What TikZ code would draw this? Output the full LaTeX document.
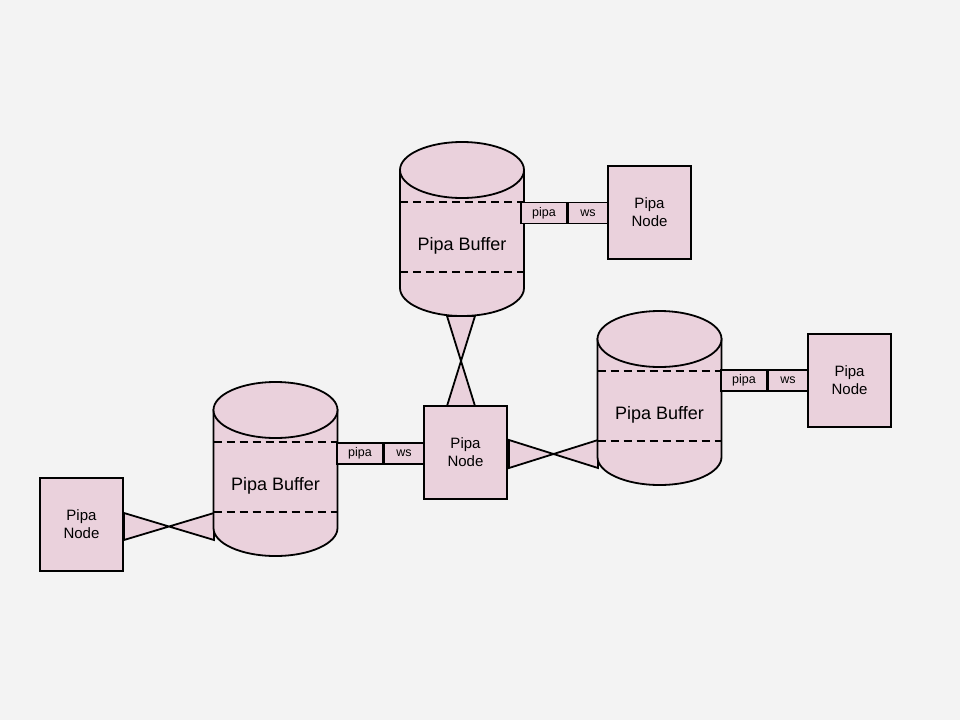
\documentclass[tikz,border=0pt]{standalone}
\usepackage{fontspec}
\setmainfont{Liberation Sans}
\usetikzlibrary{calc}
\definecolor{bg}{HTML}{F3F3F3}
\definecolor{pinkfill}{HTML}{EAD1DC}
\tikzset{
  outl/.style={draw=black, line width=1.8pt, fill=pinkfill, line join=miter},
  pnode/.style={outl, minimum width=83pt, minimum height=93pt, inner sep=0pt, align=center, font=\fontsize{15}{18}\selectfont},
  tag/.style={outl, minimum height=21pt, inner sep=0pt, font=\fontsize{12.5}{14}\selectfont},
  dashln/.style={line width=1.8pt, dash pattern=on 8pt off 5pt},
  buffer/.pic={
    \path[outl] (-62,-59) -- (-62,59) arc[start angle=180,end angle=0,x radius=62,y radius=28] -- (62,-59) -- cycle;
    \draw[dashln] (-62,-27) -- (62,-27);
    \draw[dashln] (-62,43) -- (62,43);
    \path[outl] (0,-59) ellipse [x radius=62, y radius=28];
    \node[font=\fontsize{18}{20}\selectfont] (-label) at (0,17) {Pipa Buffer};
  }
}
\begin{document}
\begin{tikzpicture}[x=1pt,y=-1pt]
\fill[bg] (0,0) rectangle (960,720);
\useasboundingbox (0,0) rectangle (960,720);

% bow-ties (drawn first)
\coordinate (ta1) at (447,316); \coordinate (ta2) at (475,316);
\coordinate (tb1) at (447,406); \coordinate (tb2) at (475,406);
\path[outl] (ta1) -- (tb2) -- (tb1) -- (ta2) -- cycle;
\coordinate (ra1) at (509,440); \coordinate (ra2) at (509,468);
\coordinate (rb1) at (598,440); \coordinate (rb2) at (598,468);
\path[outl] (ra1) -- (rb2) -- (rb1) -- (ra2) -- cycle;
\coordinate (la1) at (124,513); \coordinate (la2) at (124,540);
\coordinate (lb1) at (214,513); \coordinate (lb2) at (214,540);
\path[outl] (la1) -- (lb2) -- (lb1) -- (la2) -- cycle;

% buffers
\pic (topbuf) at (462,229) {buffer};
\pic (rightbuf) at (659.5,398) {buffer};
\pic (leftbuf) at (275.5,469) {buffer};

% tags
\node[tag, minimum width=46pt] (tp) at (544,213) {pipa};
\node[tag, minimum width=39pt] (tw) at (588,213) {ws};
\node[tag, minimum width=46pt] (rp) at (744,380.5) {pipa};
\node[tag, minimum width=39pt] (rw) at (788,380.5) {ws};
\node[tag, minimum width=46pt] (lp) at (360,453.5) {pipa};
\node[tag, minimum width=39pt] (lw) at (404,453.5) {ws};

% pipa nodes
\node[pnode] (cn) at (465.5,452.5) {Pipa\\Node};
\node[pnode] (trn) at (649.5,212.5) {Pipa\\Node};
\node[pnode] (rn) at (849.5,380.5) {Pipa\\Node};
\node[pnode] (ln) at (81.5,524.5) {Pipa\\Node};
\end{tikzpicture}
\end{document}
